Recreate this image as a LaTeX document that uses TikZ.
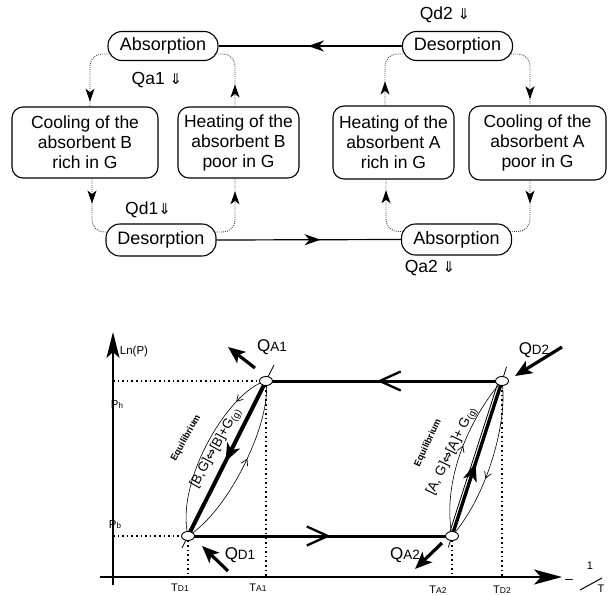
\documentclass[tikz,border=0pt]{standalone}
\usepackage{fontspec}
\setmainfont{Liberation Sans}
\newfontfamily\symf{DejaVu Sans}
\usetikzlibrary{arrows.meta,decorations.markings,shapes.geometric}
\newcommand\fsz[1]{\fontsize{#1}{#1}\selectfont}
\begin{document}
\begin{tikzpicture}[x=1pt,y=-1pt,
 box/.style={draw,line width=1.1pt,rounded corners=11pt,align=center,inner sep=0pt,font=\fontsize{17.5}{20}\selectfont},
 pill/.style={draw,line width=1.1pt,rounded corners=14pt,minimum width=110pt,minimum height=29pt,inner sep=0pt,font=\fsz{18}},
 conn/.style={draw=black!75,line width=0.9pt,dash pattern=on 0.9pt off 1.2pt,rounded corners=12pt},
 mk/.style={postaction=decorate,decoration={markings,mark=at position #1 with {\arrow{Stealth[length=13pt,width=9pt,inset=3.5pt,color=black]}}}},
 sarr/.style={line width=1.2pt,postaction=decorate,decoration={markings,mark=at position #1 with {\arrow{Stealth[length=16pt,width=11pt,inset=5pt]}}}},
 qlab/.style={font=\fsz{17.5}},
 gd/.style={line width=1.4pt,dash pattern=on 1.6pt off 3pt},
 axis/.style={line width=1.4pt},
 hbar/.style={line width=3pt,postaction=decorate,decoration={markings,mark=at position #1 with {\arrow{Straight Barb[length=21pt,width=19pt,line width=2.3pt]}}}},
 mkT/.style={postaction=decorate,decoration={markings,mark=at position #1 with {\arrow{Stealth[length=18pt,width=14pt,inset=5pt]}}}},
 lens/.style={line width=0.6pt},
 tbf/.style={postaction=decorate,decoration={markings,mark=at position #1 with {\arrow{Straight Barb[length=6pt,width=7pt,line width=0.7pt]}}}},
 tbr/.style={postaction=decorate,decoration={markings,mark=at position #1 with {\arrowreversed{Straight Barb[length=6pt,width=7pt,line width=0.7pt]}}}},
 qarr/.style={line width=3.2pt,-{Stealth[length=17pt,width=14pt,inset=4pt]}},
 ptn/.style={draw,ellipse,fill=white,line width=0.9pt,minimum width=13pt,minimum height=9pt,inner sep=0pt},
 eqs/.style={font=\bfseries\fsz{9.3},inner sep=0.5pt},
 frm/.style={font=\fsz{13.5},inner sep=0.5pt},
 sm/.style={font=\fsz{11.5}}
]
\useasboundingbox (0,0) rectangle (608,595);

% ---------- top cycle ----------
\node[pill] (abs1) at (163,46) {Absorption};
\node[pill] (des1) at (457.5,46) {Desorption};
\node[pill,minimum height=32pt] (des2) at (161,240) {Desorption};
\node[pill,minimum height=31pt] (abs2) at (456.5,239.5) {Absorption};

\node[box,minimum width=146pt,minimum height=71pt] (coolB) at (85,142.5) {Cooling of the\\absorbent B\\rich in G};
\node[box,minimum width=121pt,minimum height=71pt] (heatB) at (238.5,142.5) {Heating of the\\absorbent B\\poor in G};
\node[box,minimum width=121pt,minimum height=73pt] (heatA) at (393.5,142.5) {Heating of the\\absorbent A\\rich in G};
\node[box,minimum width=137pt,minimum height=74pt] (coolA) at (537.5,143) {Cooling of the\\absorbent A\\poor in G};

\draw[sarr=94pt] (des1.west) -- (abs1.east);
\draw[sarr=104pt] (des2.east) -- (abs2.west);

\draw[conn,mk=62pt] ([xshift=2pt,yshift=-8pt]abs1.west) -| ([xshift=5pt]coolB.north);
\draw[conn,mk=22pt] ([xshift=-3.5pt]heatB.north) |- ([xshift=-2pt,yshift=-8pt]abs1.east);
\draw[conn,mk=25pt] ([xshift=7pt]coolB.south) |- ([xshift=2pt,yshift=8pt]des2.west);
\draw[conn,mk=56pt] ([xshift=-2pt,yshift=8pt]des2.east) -| ([xshift=-3.5pt]heatB.south);
\draw[conn,mk=24pt] ([xshift=-8.5pt]heatA.north) |- ([xshift=2pt,yshift=-8pt]des1.west);
\draw[conn,mk=59pt] ([xshift=-2pt,yshift=-8pt]des1.east) -| ([xshift=-7.5pt]coolA.north);
\draw[conn,mk=23pt] ([xshift=-7.5pt]coolA.south) |- ([xshift=-2pt,yshift=8pt]abs2.east);
\draw[conn,mk=53pt] ([xshift=2pt,yshift=8pt]abs2.west) -| ([xshift=-7.5pt]heatA.south);

\node[qlab] (lqa1) at (157,80) {Qa1 {\symf\fsz{15}⇓}};
\node[qlab] (lqd1) at (148,210) {Qd1{\symf\fsz{15}⇓}};
\node[qlab] (lqd2) at (445,15) {Qd2 {\symf\fsz{15}⇓}};
\node[qlab] (lqa2) at (430,268) {Qa2 {\symf\fsz{15}⇓}};

% ---------- graph ----------
\coordinate (A1) at (266,381);
\coordinate (D1) at (188,536);
\coordinate (D2) at (502,381);
\coordinate (A2) at (452,536);
\coordinate (yh) at (113,381);
\coordinate (yb) at (113,536);
\coordinate (tD1) at (188,577);
\coordinate (tA1) at (266,577);
\coordinate (tA2) at (452,577);
\coordinate (tD2) at (502,577);
\coordinate (xo) at (100,577);
\coordinate (xe) at (562,577);
\coordinate (yo) at (113,585);
\coordinate (ye) at (113,332);

\draw[gd] (yh) -- (A1);
\draw[gd] (yb) -- (D1);
\draw[gd] (A1) -- (tA1);
\draw[gd] (D1) -- (tD1);
\draw[gd] (A2) -- (tA2);
\draw[gd] (D2) -- (tD2);

\draw[axis,-{Stealth[length=28pt,width=15pt,inset=7pt]}] (xo) -- (xe);
\draw[axis,-{Stealth[length=26pt,width=13pt,inset=6pt]}] (yo) -- (ye);

\draw[hbar=0.53] (D2) -- (A1);
\draw[hbar=0.54] (D1) -- (A2);

% tangent lines
\coordinate (lt1) at (274,365);
\coordinate (lb1) at (182,548);
\coordinate (rt1) at (506.6,366.7);
\coordinate (rb1) at (448.3,547.4);
\draw[line width=0.8pt] (lt1) -- (lb1);
\draw[line width=0.8pt] (rt1) -- (rb1);

% thick equilibrium lines
\draw[line width=4pt,mkT=0.52] (A1) -- (D1);
\draw[line width=0.8pt] ([xshift=-3.5pt]A2) -- ([xshift=-3.5pt]D2);
\draw[line width=3.4pt,mkT=0.47] (A2) -- (D2);

% lens curves
\draw[lens,tbf=0.2] (A1) .. controls (230,390) and (175,480) .. (D1);
\draw[lens,tbr=0.45] (A1) .. controls (272,420) and (230,510) .. (D1);
\draw[lens,tbr=0.45] (D2) .. controls (480,405) and (440,470) .. (A2);
\draw[lens,tbf=0.6] (D2) .. controls (508,420) and (488,495) .. (A2);

\node[eqs,rotate=61] (eq1) at (186,438) {Equilibrium};
\node[frm,rotate=61] (f1) at (216,448) {[B,G]{\symf ⇔}[B]+G\textsubscript{(g)}};
\node[eqs,rotate=65] (eq2) at (428,443) {Equilibrium};
\node[frm,rotate=64] (f2) at (452,451) {[A, G]{\symf ⇔}[A]+ G\textsubscript{(g)}};

% points
\node[ptn] (nA1) at (A1) {};
\node[ptn] (nD1) at (D1) {};
\node[ptn] (nD2) at (D2) {};
\node[ptn] (nA2) at (A2) {};

% heat arrows
\coordinate (qa1s) at (255,368); \coordinate (qa1t) at (228,347);
\coordinate (qd1s) at (228,571); \coordinate (qd1t) at (202,546);
\coordinate (qd2s) at (562,347); \coordinate (qd2t) at (515,376);
\coordinate (qa2s) at (442,543); \coordinate (qa2t) at (415,569);
\draw[qarr] (qa1s) -- (qa1t);
\draw[qarr] (qd1s) -- (qd1t);
\draw[qarr] (qd2s) -- (qd2t);
\draw[qarr] (qa2s) -- (qa2t);

\node[font=\fsz{17}] (lQA1) at (272,347) {Q{\fsz{13.5}A1}};
\node[font=\fsz{17}] (lQD1) at (240,555) {Q{\fsz{13.5}D1}};
\node[font=\fsz{17}] (lQD2) at (534,350) {Q{\fsz{13.5}D2}};
\node[font=\fsz{17}] (lQA2) at (405,555) {Q{\fsz{13.5}A2}};

% axis labels
\node[sm] (lnp) at (134,352) {Ln(P)};
\node[font=\fsz{11.5}] (ph) at (117,405) {P{\fsz{8}h}};
\node[font=\fsz{11.5}] (pb) at (115,525) {P{\fsz{8}b}};
\node[font=\fsz{11}] (lTD1) at (180,588) {T{\fsz{8.5}D1}};
\node[font=\fsz{11}] (lTA1) at (258,588) {T{\fsz{8.5}A1}};
\node[font=\fsz{11}] (lTA2) at (438,590) {T{\fsz{8.5}A2}};
\node[font=\fsz{11}] (lTD2) at (502,590) {T{\fsz{8.5}D2}};

\node[font=\fsz{14}] (minus) at (569,581) {–};
\node[font=\fsz{11}] (one) at (590,566) {1};
\node[font=\fsz{11}] (tT) at (601,589) {T};
\draw[line width=1pt] (580,590) -- (602,578);
\end{tikzpicture}
\end{document}
